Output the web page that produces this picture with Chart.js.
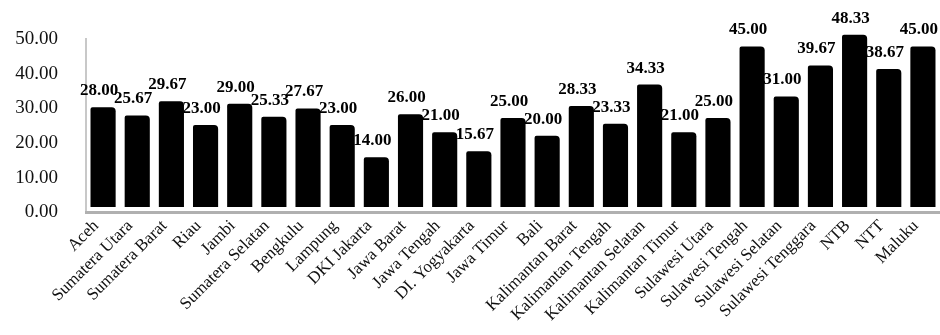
<!DOCTYPE html>
<html lang="id">
<head>
    <meta charset="UTF-8">
    <title>Grafik Provinsi</title>
    <style>
        body {
            margin: 0;
            background: #ffffff;
        }

        .chart-container {
            width: 940px;
            height: 335px;
        }
    </style>
</head>
<body>
    <div class="chart-container">
        <canvas id="provChart"></canvas>
    </div>

    <script src="https://cdn.jsdelivr.net/npm/chart.js"></script>
    <script>
        // Data provinsi
        const provinces = ["Aceh", "Sumatera Utara", "Sumatera Barat", "Riau", "Jambi",
            "Sumatera Selatan", "Bengkulu", "Lampung", "DKI Jakarta", "Jawa Barat",
            "Jawa Tengah", "DI. Yogyakarta", "Jawa Timur", "Bali", "Kalimantan Barat",
            "Kalimantan Tengah", "Kalimantan Selatan", "Kalimantan Timur", "Sulawesi Utara",
            "Sulawesi Tengah", "Sulawesi Selatan", "Sulawesi Tenggara", "NTB", "NTT", "Maluku"];
        const scores = [28.00, 25.67, 29.67, 23.00, 29.00, 25.33, 27.67, 23.00, 14.00, 26.00,
            21.00, 15.67, 25.00, 20.00, 28.33, 23.33, 34.33, 21.00, 25.00,
            45.00, 31.00, 39.67, 48.33, 38.67, 45.00];
        const yTicks = [0, 10, 20, 30, 40, 50];

        const serif = "'Liberation Serif', 'Times New Roman', serif";

        // Label nilai di atas batang
        const valueLabels = {
            id: 'valueLabels',
            afterDatasetsDraw(chart) {
                const ctx = chart.ctx;
                const meta = chart.getDatasetMeta(0);
                ctx.save();
                ctx.font = "bold 17px " + serif;
                ctx.fillStyle = '#000';
                ctx.textAlign = 'center';
                ctx.textBaseline = 'bottom';
                meta.data.forEach((bar, i) => {
                    ctx.fillText(scores[i].toFixed(2), bar.x - 4, bar.y - 8);
                });
                ctx.restore();
            }
        };

        const ctx = document.getElementById('provChart').getContext('2d');
        new Chart(ctx, {
            type: 'bar',
            data: {
                labels: provinces,
                datasets: [{
                    data: scores,
                    yAxisID: 'yb',
                    backgroundColor: '#000000',
                    borderColor: '#000000',
                    borderWidth: 0,
                    borderRadius: { topRight: 4, topLeft: 2 },
                    borderSkipped: 'bottom',
                    barPercentage: 0.8,
                    categoryPercentage: 0.92,
                    clip: false
                }]
            },
            options: {
                responsive: true,
                maintainAspectRatio: false,
                animation: false,
                layout: {
                    padding: { top: 35, right: 0, left: 0, bottom: 6 }
                },
                plugins: {
                    legend: { display: false },
                    tooltip: { enabled: false }
                },
                scales: {
                    y: {
                        min: 0,
                        max: 50,
                        afterBuildTicks(axis) {
                            axis.ticks = yTicks.map(v => ({ value: v }));
                        },
                        afterFit(axis) {
                            axis.width = 86;
                        },
                        grid: {
                            display: false,
                            drawTicks: false
                        },
                        border: {
                            display: true,
                            color: '#c8c8c8',
                            width: 2
                        },
                        ticks: {
                            color: '#111',
                            padding: 28,
                            font: { family: serif, size: 19 },
                            callback: v => v.toFixed(2)
                        }
                    },
                    // sumbu batang (efek 3D: batang di depan dinding)
                    yb: {
                        display: false,
                        min: -1.4,
                        max: 47
                    },
                    x: {
                        afterFit(axis) {
                            axis.paddingLeft = 0;
                            axis.paddingRight = 0;
                        },
                        grid: {
                            display: false,
                            drawTicks: false
                        },
                        border: {
                            display: true,
                            color: '#b0b0b0',
                            width: 3
                        },
                        ticks: {
                            color: '#111',
                            maxRotation: 45,
                            minRotation: 45,
                            padding: 4,
                            labelOffset: -7,
                            autoSkip: false,
                            font: { family: serif, size: 17 }
                        }
                    }
                }
            },
            plugins: [valueLabels]
        });
    </script>
</body>
</html>
